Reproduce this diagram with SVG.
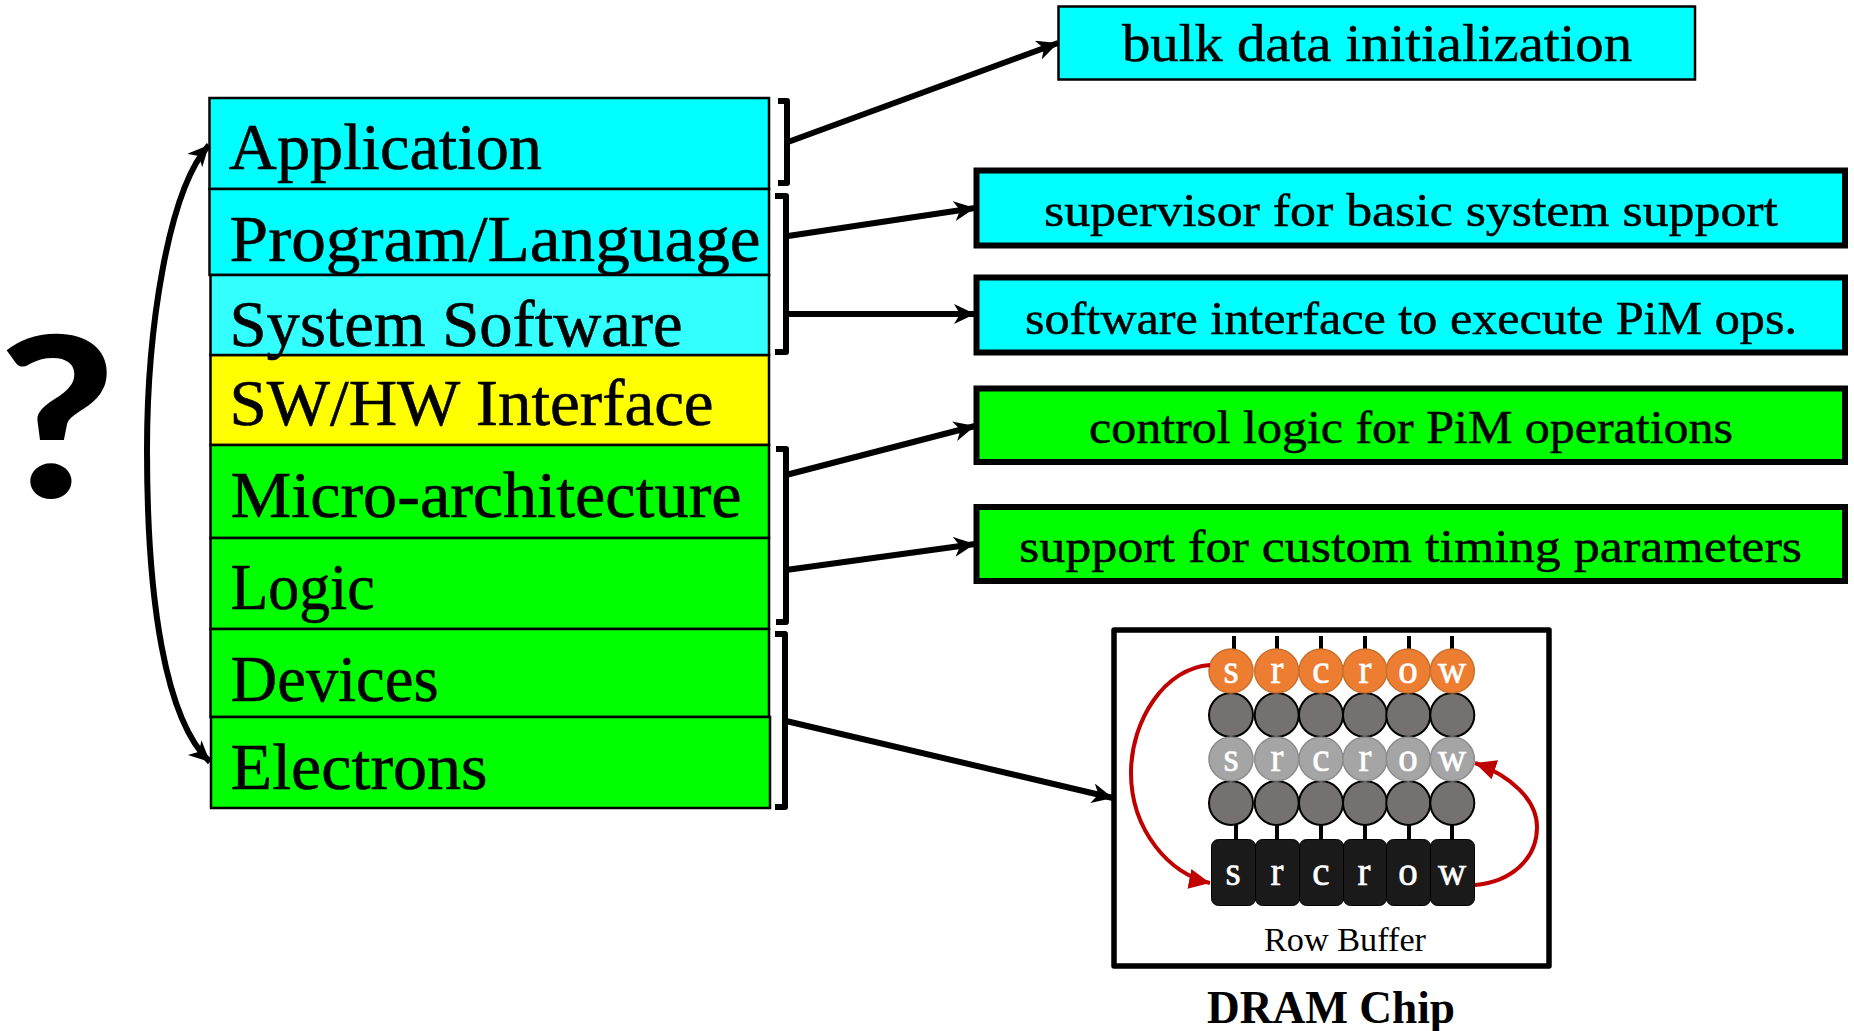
<svg xmlns="http://www.w3.org/2000/svg" width="1854" height="1031" viewBox="0 0 1854 1031">
<style>
text{font-family:"Liberation Serif",serif;fill:#000}
.l{font-size:65px;stroke:#000;stroke-width:.6}
.r{font-size:46px;stroke:#000;stroke-width:.5}
.s{fill:none;stroke:#000;stroke-width:2.5}
.b{fill:none;stroke:#000;stroke-width:6;stroke-linejoin:round}
.a{fill:none;stroke:#000;stroke-width:6;marker-end:url(#ah)}
.d{fill:none;stroke:#c00000;stroke-width:4;marker-end:url(#rh)}
.o circle{fill:#ed7d31;stroke:#c8712f;stroke-width:1.5}
.g circle{fill:#767171;stroke:#000;stroke-width:2}
.m circle{fill:#a5a5a5;stroke:#8c8c8c;stroke-width:1.5}
.w text{font-size:39px;fill:#fff;text-anchor:middle;stroke:#fff;stroke-width:.6}
.cell rect{fill:#1a1a1a;stroke:#000;stroke-width:1}
.stem{stroke:#000;stroke-width:4}
</style>
<defs>
<marker id="ah" markerUnits="userSpaceOnUse" markerWidth="24" markerHeight="22" refX="21" refY="10" orient="auto-start-reverse"><path d="M0,0L21,10L0,20L6,10Z" fill="#000"/></marker>
<marker id="rh" markerUnits="userSpaceOnUse" markerWidth="24" markerHeight="22" refX="21" refY="10" orient="auto-start-reverse"><path d="M0,0L21,10L0,20Z" fill="#c00000"/></marker>
</defs>
<rect width="1854" height="1031" fill="#fff"/>

<g id="question"><text transform="translate(57,497) scale(1.11,.975)" x="0" y="0" style="font-family:Lato,sans-serif;font-weight:900;font-size:228px" text-anchor="middle">?</text></g>

<g id="app"><rect class="s" x="209.500" y="98" width="559.500" height="91" style="fill:#0ff"/><text class="l" x="229" y="169" textLength="313" lengthAdjust="spacingAndGlyphs">Application</text></g>
<g id="prog"><rect class="s" x="209.500" y="189" width="559.500" height="86" style="fill:#0ff"/><text class="l" x="229.600" y="261" textLength="531" lengthAdjust="spacingAndGlyphs">Program/Language</text></g>
<g id="iface"><rect class="s" x="210.500" y="355" width="558.500" height="90" style="fill:#ff0"/><text class="l" x="229.600" y="425" textLength="484" lengthAdjust="spacingAndGlyphs">SW/HW Interface</text></g>
<g id="sys"><rect class="s" x="210.500" y="275" width="558.500" height="80" style="fill:#33ffff"/><text class="l" x="229.600" y="346" textLength="453" lengthAdjust="spacingAndGlyphs">System Software</text></g>
<g id="micro"><rect class="s" x="210.500" y="445" width="558.500" height="93" style="fill:#0f0"/><text class="l" x="230.600" y="517" textLength="511" lengthAdjust="spacingAndGlyphs">Micro-architecture</text></g>
<g id="logic"><rect class="s" x="210.500" y="538" width="558.500" height="91" style="fill:#0f0"/><text class="l" x="230.600" y="609" textLength="144" lengthAdjust="spacingAndGlyphs">Logic</text></g>
<g id="devices"><rect class="s" x="210.500" y="629" width="558.500" height="88" style="fill:#0f0"/><text class="l" x="230.600" y="701" textLength="208" lengthAdjust="spacingAndGlyphs">Devices</text></g>
<g id="electrons"><rect class="s" x="211" y="717" width="559" height="91" style="fill:#0f0"/><text class="l" x="230.600" y="789" textLength="257" lengthAdjust="spacingAndGlyphs">Electrons</text></g>

<g id="boxes-right">
<g id="r1"><rect x="1058.500" y="6.500" width="636.500" height="73" fill="#0ff" stroke="#000" stroke-width="2.500"/><text x="1122" y="61" style="font-size:52px;stroke:#000;stroke-width:.5" textLength="510" lengthAdjust="spacingAndGlyphs">bulk data initialization</text></g>
<g id="r2"><rect x="976.500" y="170.500" width="868.500" height="75" fill="#0ff" stroke="#000" stroke-width="6"/><text class="r" x="1044" y="226" textLength="734" lengthAdjust="spacingAndGlyphs">supervisor for basic system support</text></g>
<g id="r3"><rect x="976.500" y="277.500" width="868.500" height="75" fill="#0ff" stroke="#000" stroke-width="6"/><text class="r" x="1025" y="334" textLength="772" lengthAdjust="spacingAndGlyphs">software interface to execute PiM ops.</text></g>
<g id="r4"><rect x="976.500" y="388.500" width="868.500" height="73.500" fill="#0f0" stroke="#000" stroke-width="6"/><text class="r" x="1089" y="443" textLength="644" lengthAdjust="spacingAndGlyphs">control logic for PiM operations</text></g>
<g id="r5"><rect x="976.500" y="507" width="868.500" height="74" fill="#0f0" stroke="#000" stroke-width="6"/><text class="r" x="1019" y="562" textLength="783" lengthAdjust="spacingAndGlyphs">support for custom timing parameters</text></g>
</g>

<g id="dram">
<rect x="1114" y="630" width="435" height="336" fill="#fff" stroke="#000" stroke-width="5.500" stroke-linejoin="round"/>
<g class="stem">
<path d="M1234,636V650M1277,636V650M1321,636V650M1365,636V650M1409,636V650M1452,636V650M1236,824V841M1277,824V841M1321,824V841M1365,824V841M1409,824V841M1452,824V841"/>
</g>
<g class="g"><circle cx="1231" cy="715" r="22"/><circle cx="1276.700" cy="715" r="22"/><circle cx="1321" cy="715" r="22"/><circle cx="1365" cy="715" r="22"/><circle cx="1408.300" cy="715" r="22"/><circle cx="1452.300" cy="715" r="22"/>
<circle cx="1231" cy="803" r="22"/><circle cx="1276.700" cy="803" r="22"/><circle cx="1321" cy="803" r="22"/><circle cx="1365" cy="803" r="22"/><circle cx="1408.300" cy="803" r="22"/><circle cx="1452.300" cy="803" r="22"/></g>
<g class="o w"><circle cx="1231" cy="671" r="22"/><circle cx="1276.700" cy="671" r="22"/><circle cx="1321" cy="671" r="22"/><circle cx="1365" cy="671" r="22"/><circle cx="1408.300" cy="671" r="22"/><circle cx="1452.300" cy="671" r="22"/>
<text x="1231" y="683">s</text><text x="1277" y="683">r</text><text x="1321" y="683">c</text><text x="1365" y="683">r</text><text x="1408" y="683">o</text><text x="1452" y="683">w</text></g>
<g class="m w"><circle cx="1231" cy="759" r="22"/><circle cx="1276.700" cy="759" r="22"/><circle cx="1321" cy="759" r="22"/><circle cx="1365" cy="759" r="22"/><circle cx="1408.300" cy="759" r="22"/><circle cx="1452.300" cy="759" r="22"/>
<text x="1231" y="771">s</text><text x="1277" y="771">r</text><text x="1321" y="771">c</text><text x="1365" y="771">r</text><text x="1408" y="771">o</text><text x="1452" y="771">w</text></g>
<g class="cell w"><rect x="1211.500" y="839.500" width="44" height="66" rx="7"/><rect x="1255.500" y="839.500" width="44" height="66" rx="7"/><rect x="1299.500" y="839.500" width="44" height="66" rx="7"/><rect x="1343.500" y="839.500" width="43" height="66" rx="7"/><rect x="1386.500" y="839.500" width="44" height="66" rx="7"/><rect x="1430.500" y="839.500" width="44" height="66" rx="7"/>
<text x="1233" y="885">s</text><text x="1277" y="885">r</text><text x="1321" y="885">c</text><text x="1364" y="885">r</text><text x="1408" y="885">o</text><text x="1452" y="885">w</text></g>
<text x="1345" y="951" text-anchor="middle" style="font-size:33px" textLength="162" lengthAdjust="spacingAndGlyphs">Row Buffer</text>
</g>
<g id="dram-label"><text x="1331" y="1023" text-anchor="middle" style="font-size:46px;font-weight:bold" textLength="248" lengthAdjust="spacingAndGlyphs">DRAM Chip</text></g>

<g id="connectors">
<path class="b" d="M778,101H787V183H778"/>
<path class="b" d="M775,196H786V352H775"/>
<path class="b" d="M776,449H786V622H776"/>
<path class="b" d="M775,634H785V807H775"/>
<path class="a" d="M788,142L1058,43"/>
<path class="a" d="M788,236L975,208"/>
<path class="a" d="M788,314H975"/>
<path class="a" d="M786,475L975,426"/>
<path class="a" d="M786,570L975,544"/>
<path class="a" d="M786,721L1113,798"/>
<path class="a" style="marker-start:url(#ah)" d="M209,145C168,190 147,330 147,450C147,600 165,720 210,762"/>
<path class="d" d="M1210,665C1165,668 1131,720 1131,773C1131,830 1170,875 1210,883"/>
<path class="d" d="M1475,885C1510,882 1537,860 1537,827C1537,800 1510,775 1475,763"/>
</g>
</svg>
